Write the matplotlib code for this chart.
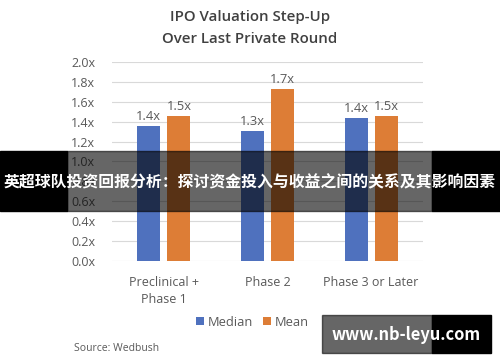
import matplotlib.pyplot as plt
import numpy as np
from matplotlib.patches import Rectangle

categories = ['Preclinical +\nPhase 1', 'Phase 2', 'Phase 3 or Later']
median = [1.36, 1.31, 1.44]
mean = [1.46, 1.73, 1.46]
median_labels = ['1.4x', '1.3x', '1.4x']
mean_labels = ['1.5x', '1.7x', '1.5x']
yticks = [0.0, 0.2, 0.4, 0.6, 0.8, 1.0, 1.2, 1.4, 1.6, 1.8, 2.0]

banner_text = '英超球队投资回报分析：探讨资金投入与收益之间的关系及其影响因素'
watermark = 'www.nb-leyu.com'

blue = '#4f71be'
orange = '#dd7d36'
grey = '#595959'

plt.rcParams['font.family'] = ['Open Sans', 'DejaVu Sans']

fig = plt.figure(figsize=(5, 3.62), dpi=100)
ax = fig.add_axes([0.224, 0.279, 0.622, 0.55])

x = np.arange(len(categories))
w = 0.22
off = 0.145
ax.bar(x - off, median, w, color=blue, label='Median', zorder=3)
ax.bar(x + off, mean, w, color=orange, label='Mean', zorder=3)

for i in range(len(categories)):
    ax.text(x[i] - off, median[i] + 0.03, median_labels[i], ha='center', va='bottom',
            fontsize=9.3, color=grey)
    ax.text(x[i] + off, mean[i] + 0.03, mean_labels[i], ha='center', va='bottom',
            fontsize=9.3, color=grey)

ax.set_xlim(-0.5, 2.5)
ax.set_ylim(0, 2.0)
ax.set_yticks(yticks)
ax.set_yticklabels(['{:.1f}x'.format(v) for v in yticks], fontsize=9, color=grey)
ax.set_xticks(x)
ax.set_xticklabels(categories, fontsize=9, color=grey, linespacing=1.35)
ax.tick_params(length=0)
ax.tick_params(axis='x', pad=11)
ax.tick_params(axis='y', pad=12)
ax.grid(axis='y', color='#d9d9d9', linewidth=0.8, zorder=0)
for s in ax.spines.values():
    s.set_visible(False)

fig.text(0.5, 0.953, 'IPO Valuation Step-Up', ha='center', va='center',
         fontsize=10.8, fontweight='semibold', color='#404040')
fig.text(0.5, 0.893, 'Over Last Private Round', ha='center', va='center',
         fontsize=10.8, fontweight='semibold', color='#404040')

leg = fig.legend(loc='center', bbox_to_anchor=(0.505, 0.11), ncol=2, frameon=False,
                 fontsize=9.3, handlelength=0.6, handleheight=0.6, columnspacing=0.8,
                 handletextpad=0.3)
for t in leg.get_texts():
    t.set_color(grey)

fig.text(0.148, 0.038, 'Source: Wedbush', ha='left', va='center', fontsize=7.5, color=grey)

# banner overlay
H = 362.0
def box(x0, x1, y0, y1, **kw):
    fig.patches.append(Rectangle((x0 / 500, 1 - y1 / H), (x1 - x0) / 500, (y1 - y0) / H,
                                 transform=fig.transFigure, zorder=10, **kw))

box(0, 67, 151, 211, color='black')
box(432, 500, 151, 211, color='black')
box(67, 432, 151, 211, color='black', alpha=0.6)
fig.text(0.5, 1 - 181 / H, banner_text, ha='center', va='center', fontsize=11.4,
         fontweight='bold', color='white', zorder=11,
         family=['Noto Sans CJK SC', 'DejaVu Sans'])

box(322, 432, 315, 353, color='black', alpha=0.6)
box(432, 491, 315, 353, color='black')
fig.text(406 / 500, 1 - 335 / H, watermark, ha='center', va='center', fontsize=11.8,
         fontweight='bold', color='white', zorder=11,
         family=['Noto Sans CJK SC', 'DejaVu Sans'])

fig.savefig('out.png', dpi=100)
